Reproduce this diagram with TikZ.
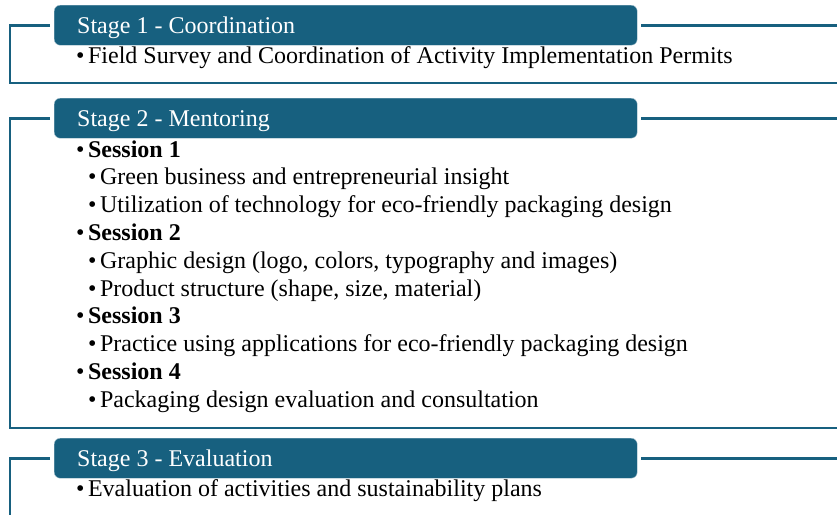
\documentclass[tikz,border=0pt]{standalone}
\usepackage{fontspec}
\setmainfont{Liberation Serif}
\definecolor{stageblue}{HTML}{17607F}
\begin{document}
\begin{tikzpicture}[x=1pt,y=-1pt,
  stagehead/.style={fill=stageblue, draw=stageblue!40, line width=0.4pt,
    rounded corners=6pt, minimum width=583pt, minimum height=40pt,
    inner sep=0pt, anchor=north west},
  headtext/.style={text=white, font=\fontsize{24}{28}\selectfont,
    inner sep=0pt, anchor=base west},
  item/.style={font=\fontsize{24}{28}\selectfont, inner sep=0pt, anchor=base west},
  rail/.style={draw=stageblue, line width=2.6pt}]
\useasboundingbox (0,0) rectangle (837,514);
\newcommand{\bul}{\textbullet\hspace{3.5pt}}

% Stage 1
\node[stagehead] (s1) at (54,5) {};
\node[headtext] (s1t) at (77,33) {Stage 1 - Coordination};
\node[item] (i11) at (76,63) {\bul Field Survey and Coordination of Activity Implementation Permits};
\coordinate (c1) at (10,83);
\coordinate (e1) at (840,83);
\draw[rail] ([xshift=-4pt]s1.west) -| (c1) -- (e1);
\draw[rail] ([xshift=4pt]s1.east) -- (s1.east -| e1);

% Stage 2
\node[stagehead] (s2) at (54,98) {};
\node[headtext] (s2t) at (77,126) {Stage 2 - Mentoring};
\node[item] (i21) at (76,157.0) {\bul\textbf{Session 1}};
\node[item] (i22) at (88,184.8) {\bul Green business and entrepreneurial insight};
\node[item] (i23) at (88,212.6) {\bul Utilization of technology for eco-friendly packaging design};
\node[item] (i24) at (76,240.4) {\bul\textbf{Session 2}};
\node[item] (i25) at (88,268.2) {\bul Graphic design (logo, colors, typography and images)};
\node[item] (i26) at (88,296.0) {\bul Product structure (shape, size, material)};
\node[item] (i27) at (76,323.8) {\bul\textbf{Session 3}};
\node[item] (i28) at (88,351.6) {\bul Practice using applications for eco-friendly packaging design};
\node[item] (i29) at (76,379.4) {\bul\textbf{Session 4}};
\node[item] (i2a) at (88,407.2) {\bul Packaging design evaluation and consultation};
\coordinate (c2) at (10,428);
\coordinate (e2) at (840,428);
\draw[rail] ([xshift=-4pt]s2.west) -| (c2) -- (e2);
\draw[rail] ([xshift=4pt]s2.east) -- (s2.east -| e2);

% Stage 3
\node[stagehead] (s3) at (54,438) {};
\node[headtext] (s3t) at (77,466) {Stage 3 - Evaluation};
\node[item] (i31) at (76,496) {\bul Evaluation of activities and sustainability plans};
\coordinate (c3) at (10,520);
\coordinate (e3) at (840,457);
\draw[rail] ([xshift=-4pt]s3.west) -| (c3);
\draw[rail] ([xshift=4pt]s3.east) -- (s3.east -| e3);
\end{tikzpicture}
\end{document}
